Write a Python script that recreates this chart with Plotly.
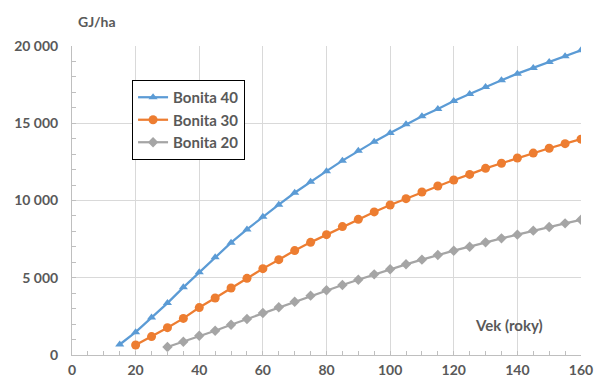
import plotly.graph_objects as go

# Age of stand (years)
vek_40 = list(range(15, 161, 5))
vek_30 = list(range(20, 161, 5))
vek_20 = list(range(30, 161, 5))

# Energy content (GJ/ha) per site class
bonita_40 = [680, 1480, 2420, 3360, 4380, 5350, 6320, 7270, 8130, 8950,
             9730, 10500, 11220, 11900, 12580, 13220, 13810, 14370, 14930,
             15450, 15920, 16440, 16890, 17350, 17780, 18210, 18580, 18960,
             19330, 19720]
bonita_30 = [650, 1190, 1770, 2370, 3070, 3690, 4340, 4960, 5590, 6170,
             6760, 7290, 7790, 8310, 8780, 9260, 9710, 10120, 10550, 10940,
             11330, 11690, 12080, 12410, 12750, 13070, 13380, 13680, 13970]
bonita_20 = [520, 860, 1250, 1570, 1960, 2330, 2720, 3090, 3450, 3840,
             4190, 4530, 4870, 5220, 5550, 5870, 6170, 6470, 6750, 7010,
             7290, 7550, 7790, 8050, 8280, 8520, 8750]

x_ticks = list(range(0, 161, 20))
y_ticks = [0, 5000, 10000, 15000, 20000]

TXT = "#595959"
GRID = "#d9d9d9"
FONT = "Lato"

fig = go.Figure()
fig.add_trace(go.Scatter(
    x=vek_40, y=bonita_40, name="Bonita 40", mode="lines+markers",
    line=dict(color="#5B9BD5", width=2.25),
    marker=dict(symbol="triangle-up", size=8, color="#5B9BD5")))
fig.add_trace(go.Scatter(
    x=vek_30, y=bonita_30, name="Bonita 30", mode="lines+markers",
    line=dict(color="#ED7D31", width=2.25),
    marker=dict(symbol="circle", size=9, color="#ED7D31")))
fig.add_trace(go.Scatter(
    x=vek_20, y=bonita_20, name="Bonita 20", mode="lines+markers",
    line=dict(color="#A5A5A5", width=2.25),
    marker=dict(symbol="diamond", size=8, color="#A5A5A5")))

fig.update_layout(
    width=595, height=383,
    margin=dict(l=72, r=14, t=46, b=28),
    paper_bgcolor="white", plot_bgcolor="white",
    separators=". ",
    font=dict(family=FONT, color=TXT, size=13),
    showlegend=True,
    legend=dict(
        x=0.118, y=0.89, xanchor="left", yanchor="top",
        bgcolor="white", bordercolor="black", borderwidth=1,
        font=dict(family=FONT, size=15, color=TXT, weight="bold"),
        tracegroupgap=0, itemwidth=30,
    ),
    xaxis=dict(
        range=[0, 160], tickvals=x_ticks, ticktext=[str(v) for v in x_ticks],
        showgrid=True, gridcolor=GRID, gridwidth=1,
        showline=True, linecolor="#bfbfbf", linewidth=1,
        ticks="inside", ticklen=4, tickcolor="#bfbfbf",
        minor=dict(dtick=5, ticks="inside", ticklen=4, tickcolor="#bfbfbf", showgrid=False),
        tickfont=dict(family=FONT, size=14, color=TXT, weight="bold"),
        ticklabelstandoff=2,
        automargin=False, zeroline=False, fixedrange=True,
    ),
    yaxis=dict(
        range=[0, 20000], tickvals=y_ticks, tickformat=",d",
        showgrid=True, gridcolor=GRID, gridwidth=1,
        showline=True, linecolor="#bfbfbf", linewidth=1,
        ticks="inside", ticklen=4, tickcolor="#bfbfbf",
        minor=dict(dtick=1000, ticks="inside", ticklen=4, tickcolor="#bfbfbf", showgrid=False),
        tickfont=dict(family=FONT, size=14, color=TXT, weight="bold"),
        ticklabelstandoff=10,
        automargin=False, zeroline=False, fixedrange=True,
    ),
    annotations=[
        dict(text="GJ/ha", xref="paper", yref="paper", x=0.049, y=1.078,
             xanchor="center", yanchor="middle", showarrow=False,
             font=dict(family=FONT, size=14, color=TXT, weight="bold")),
        dict(text="Vek (roky)", xref="paper", yref="paper", x=0.858, y=0.097,
             xanchor="center", yanchor="middle", showarrow=False,
             font=dict(family=FONT, size=15, color=TXT, weight="bold")),
    ],
)

fig.write_html("out.html")
